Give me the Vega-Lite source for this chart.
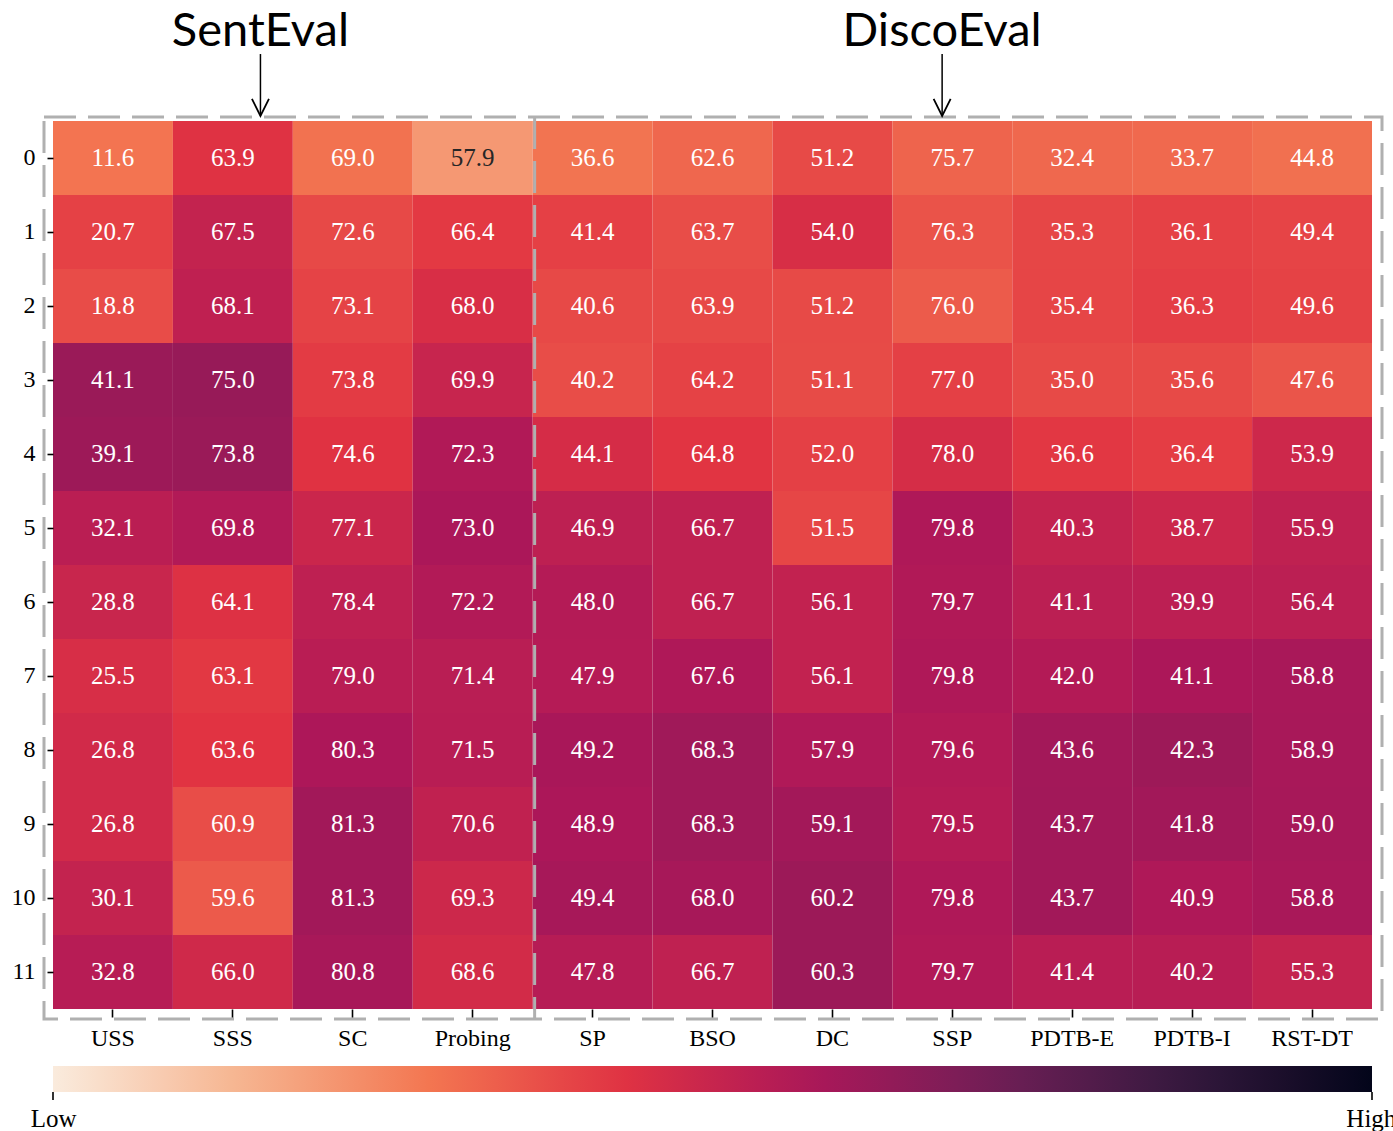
{
 "$schema": "https://vega.github.io/schema/vega-lite/v6.json",
 "width": 1319,
 "height": 888,
 "autosize": {"type": "none"},
 "padding": {"left": 53, "top": 121, "right": 21, "bottom": 122},
 "background": "white",
 "config": {"view": {"stroke": null}, "font": "Liberation Serif"},
 "datasets": {
  "cells": [
   {"layer":0,"task":"USS","score":11.6},{"layer":0,"task":"SSS","score":63.9},{"layer":0,"task":"SC","score":69.0},{"layer":0,"task":"Probing","score":57.9},{"layer":0,"task":"SP","score":36.6},{"layer":0,"task":"BSO","score":62.6},{"layer":0,"task":"DC","score":51.2},{"layer":0,"task":"SSP","score":75.7},{"layer":0,"task":"PDTB-E","score":32.4},{"layer":0,"task":"PDTB-I","score":33.7},{"layer":0,"task":"RST-DT","score":44.8},
   {"layer":1,"task":"USS","score":20.7},{"layer":1,"task":"SSS","score":67.5},{"layer":1,"task":"SC","score":72.6},{"layer":1,"task":"Probing","score":66.4},{"layer":1,"task":"SP","score":41.4},{"layer":1,"task":"BSO","score":63.7},{"layer":1,"task":"DC","score":54.0},{"layer":1,"task":"SSP","score":76.3},{"layer":1,"task":"PDTB-E","score":35.3},{"layer":1,"task":"PDTB-I","score":36.1},{"layer":1,"task":"RST-DT","score":49.4},
   {"layer":2,"task":"USS","score":18.8},{"layer":2,"task":"SSS","score":68.1},{"layer":2,"task":"SC","score":73.1},{"layer":2,"task":"Probing","score":68.0},{"layer":2,"task":"SP","score":40.6},{"layer":2,"task":"BSO","score":63.9},{"layer":2,"task":"DC","score":51.2},{"layer":2,"task":"SSP","score":76.0},{"layer":2,"task":"PDTB-E","score":35.4},{"layer":2,"task":"PDTB-I","score":36.3},{"layer":2,"task":"RST-DT","score":49.6},
   {"layer":3,"task":"USS","score":41.1},{"layer":3,"task":"SSS","score":75.0},{"layer":3,"task":"SC","score":73.8},{"layer":3,"task":"Probing","score":69.9},{"layer":3,"task":"SP","score":40.2},{"layer":3,"task":"BSO","score":64.2},{"layer":3,"task":"DC","score":51.1},{"layer":3,"task":"SSP","score":77.0},{"layer":3,"task":"PDTB-E","score":35.0},{"layer":3,"task":"PDTB-I","score":35.6},{"layer":3,"task":"RST-DT","score":47.6},
   {"layer":4,"task":"USS","score":39.1},{"layer":4,"task":"SSS","score":73.8},{"layer":4,"task":"SC","score":74.6},{"layer":4,"task":"Probing","score":72.3},{"layer":4,"task":"SP","score":44.1},{"layer":4,"task":"BSO","score":64.8},{"layer":4,"task":"DC","score":52.0},{"layer":4,"task":"SSP","score":78.0},{"layer":4,"task":"PDTB-E","score":36.6},{"layer":4,"task":"PDTB-I","score":36.4},{"layer":4,"task":"RST-DT","score":53.9},
   {"layer":5,"task":"USS","score":32.1},{"layer":5,"task":"SSS","score":69.8},{"layer":5,"task":"SC","score":77.1},{"layer":5,"task":"Probing","score":73.0},{"layer":5,"task":"SP","score":46.9},{"layer":5,"task":"BSO","score":66.7},{"layer":5,"task":"DC","score":51.5},{"layer":5,"task":"SSP","score":79.8},{"layer":5,"task":"PDTB-E","score":40.3},{"layer":5,"task":"PDTB-I","score":38.7},{"layer":5,"task":"RST-DT","score":55.9},
   {"layer":6,"task":"USS","score":28.8},{"layer":6,"task":"SSS","score":64.1},{"layer":6,"task":"SC","score":78.4},{"layer":6,"task":"Probing","score":72.2},{"layer":6,"task":"SP","score":48.0},{"layer":6,"task":"BSO","score":66.7},{"layer":6,"task":"DC","score":56.1},{"layer":6,"task":"SSP","score":79.7},{"layer":6,"task":"PDTB-E","score":41.1},{"layer":6,"task":"PDTB-I","score":39.9},{"layer":6,"task":"RST-DT","score":56.4},
   {"layer":7,"task":"USS","score":25.5},{"layer":7,"task":"SSS","score":63.1},{"layer":7,"task":"SC","score":79.0},{"layer":7,"task":"Probing","score":71.4},{"layer":7,"task":"SP","score":47.9},{"layer":7,"task":"BSO","score":67.6},{"layer":7,"task":"DC","score":56.1},{"layer":7,"task":"SSP","score":79.8},{"layer":7,"task":"PDTB-E","score":42.0},{"layer":7,"task":"PDTB-I","score":41.1},{"layer":7,"task":"RST-DT","score":58.8},
   {"layer":8,"task":"USS","score":26.8},{"layer":8,"task":"SSS","score":63.6},{"layer":8,"task":"SC","score":80.3},{"layer":8,"task":"Probing","score":71.5},{"layer":8,"task":"SP","score":49.2},{"layer":8,"task":"BSO","score":68.3},{"layer":8,"task":"DC","score":57.9},{"layer":8,"task":"SSP","score":79.6},{"layer":8,"task":"PDTB-E","score":43.6},{"layer":8,"task":"PDTB-I","score":42.3},{"layer":8,"task":"RST-DT","score":58.9},
   {"layer":9,"task":"USS","score":26.8},{"layer":9,"task":"SSS","score":60.9},{"layer":9,"task":"SC","score":81.3},{"layer":9,"task":"Probing","score":70.6},{"layer":9,"task":"SP","score":48.9},{"layer":9,"task":"BSO","score":68.3},{"layer":9,"task":"DC","score":59.1},{"layer":9,"task":"SSP","score":79.5},{"layer":9,"task":"PDTB-E","score":43.7},{"layer":9,"task":"PDTB-I","score":41.8},{"layer":9,"task":"RST-DT","score":59.0},
   {"layer":10,"task":"USS","score":30.1},{"layer":10,"task":"SSS","score":59.6},{"layer":10,"task":"SC","score":81.3},{"layer":10,"task":"Probing","score":69.3},{"layer":10,"task":"SP","score":49.4},{"layer":10,"task":"BSO","score":68.0},{"layer":10,"task":"DC","score":60.2},{"layer":10,"task":"SSP","score":79.8},{"layer":10,"task":"PDTB-E","score":43.7},{"layer":10,"task":"PDTB-I","score":40.9},{"layer":10,"task":"RST-DT","score":58.8},
   {"layer":11,"task":"USS","score":32.8},{"layer":11,"task":"SSS","score":66.0},{"layer":11,"task":"SC","score":80.8},{"layer":11,"task":"Probing","score":68.6},{"layer":11,"task":"SP","score":47.8},{"layer":11,"task":"BSO","score":66.7},{"layer":11,"task":"DC","score":60.3},{"layer":11,"task":"SSP","score":79.7},{"layer":11,"task":"PDTB-E","score":41.4},{"layer":11,"task":"PDTB-I","score":40.2},{"layer":11,"task":"RST-DT","score":55.3}
  ],
  "groups": [
   {"group": "SentEval", "start": 0, "end": 4, "pos": 1.73},
   {"group": "DiscoEval", "start": 4, "end": 11, "pos": 7.415}
  ]
 },
 "layer": [
  {
   "data": {"name": "cells"},
   "transform": [
    {"joinaggregate": [{"op": "mean", "field": "score", "as": "m"}, {"op": "stdev", "field": "score", "as": "s"}], "groupby": ["task"]},
    {"calculate": "(datum.score - datum.m) / datum.s", "as": "z0"},
    {"calculate": "datum.z0 > 1.2 ? 1.2 + (datum.z0 - 1.2) * 0.3 : datum.z0", "as": "z"}
   ],
   "encoding": {
    "x": {"field": "task", "type": "nominal",
          "sort": ["USS","SSS","SC","Probing","SP","BSO","DC","SSP","PDTB-E","PDTB-I","RST-DT"],
          "scale": {"paddingInner": 0, "paddingOuter": 0},
          "axis": {"title": null, "labelAngle": 0, "domain": false, "grid": false, "tickSize": 8, "tickColor": "black", "tickWidth": 1.6, "labelFont": "Liberation Serif", "labelFontSize": 24, "labelColor": "black", "labelPadding": 9}},
    "y": {"field": "layer", "type": "ordinal",
          "scale": {"paddingInner": 0, "paddingOuter": 0},
          "axis": {"title": null, "domain": false, "grid": false, "tickSize": 6, "tickColor": "black", "tickWidth": 1.6, "labelFont": "Liberation Serif", "labelFontSize": 24, "labelColor": "black", "labelPadding": 12}}
   },
   "layer": [
    {
     "mark": {"type": "rect"},
     "encoding": {
      "color": {"field": "z", "type": "quantitative",
                "scale": {"domain": [-4.85, -3.421, -1.993, -0.564, 0.864, 2.293, 3.721, 5.15],
                          "range": ["#faebdd", "#f6b48f", "#f37651", "#e13342", "#ad1759", "#701f57", "#35193e", "#03051a"],
                          "interpolate": "rgb"},
                "legend": {"orient": "none", "legendX": 0, "legendY": 945, "direction": "horizontal", "gradientLength": 1319, "gradientThickness": 26, "title": null, "padding": 0, "offset": 0,
                           "values": [-4.845, 5.145], "labelExpr": "datum.value < 0 ? 'Low' : 'High'", "labelFont": "Liberation Serif", "labelFontSize": 25, "labelColor": "black", "labelAlign": "center", "labelOffset": 15, "labelOverlap": false}}
     }
    },
    {
     "mark": {"type": "text", "font": "Liberation Serif", "fontSize": 25},
     "encoding": {
      "text": {"field": "score", "type": "quantitative", "format": ".1f"},
      "color": {"condition": {"test": "datum.z < -2.4", "value": "#262626"}, "value": "#ffffff"}
     }
    }
   ]
  },
  {
   "data": {"name": "groups"},
   "layer": [
    {
     "transform": [{"aggregate": [{"op": "min", "field": "start", "as": "s0"}, {"op": "max", "field": "end", "as": "s1"}]}],
     "mark": {"type": "rect", "filled": false, "fill": null, "stroke": "#b0b0b0", "strokeWidth": 3, "strokeDash": [32, 12], "xOffset": -9, "x2Offset": 10, "yOffset": -4, "y2Offset": 10},
     "encoding": {
      "x": {"field": "s0", "type": "quantitative", "scale": {"domain": [0, 11], "nice": false, "zero": false}, "axis": null},
      "x2": {"field": "s1"},
      "y": {"datum": 0, "type": "quantitative", "scale": {"domain": [0, 12], "nice": false, "zero": false, "reverse": true}, "axis": null},
      "y2": {"datum": 12}
     }
    },
    {
     "transform": [{"filter": "datum.start > 0"}],
     "mark": {"type": "rule", "stroke": "#b0b0b0", "strokeWidth": 3, "strokeDash": [32, 12], "xOffset": 2, "yOffset": -4, "y2Offset": 10},
     "encoding": {
      "x": {"field": "start", "type": "quantitative", "axis": null},
      "y": {"datum": 0, "type": "quantitative", "axis": null},
      "y2": {"datum": 12}
     }
    },
    {
     "transform": [
      {"aggregate": [{"op": "min", "field": "start", "as": "s0"}, {"op": "max", "field": "end", "as": "s1"}]},
      {"fold": ["s0", "s1"], "as": ["k", "edge"]}
     ],
     "mark": {"type": "rule", "stroke": "black", "strokeWidth": 1.6},
     "encoding": {
      "x": {"field": "edge", "type": "quantitative", "axis": null},
      "y": {"datum": 13.12, "type": "quantitative", "axis": null},
      "y2": {"datum": 13.23}
     }
    },
    {
     "mark": {"type": "rule", "stroke": "black", "strokeWidth": 1.5},
     "encoding": {
      "x": {"field": "pos", "type": "quantitative", "axis": null},
      "y": {"datum": -0.905, "type": "quantitative", "axis": null},
      "y2": {"datum": -0.075}
     }
    },
    {
     "mark": {"type": "point", "shape": "M-0.5,-1L0,0L0.5,-1", "size": 1156, "filled": false, "stroke": "black", "strokeWidth": 1.8, "opacity": 1},
     "encoding": {
      "x": {"field": "pos", "type": "quantitative", "axis": null},
      "y": {"datum": -0.068, "type": "quantitative", "axis": null}
     }
    },
    {
     "mark": {"type": "text", "font": "Lato", "fontSize": 47, "baseline": "alphabetic", "align": "center", "color": "black"},
     "encoding": {
      "x": {"field": "pos", "type": "quantitative", "axis": null},
      "y": {"datum": -1.013, "type": "quantitative", "axis": null},
      "text": {"field": "group", "type": "nominal"}
     }
    }
   ]
  }
 ],
 "resolve": {"scale": {"x": "independent", "y": "independent"}}
}
